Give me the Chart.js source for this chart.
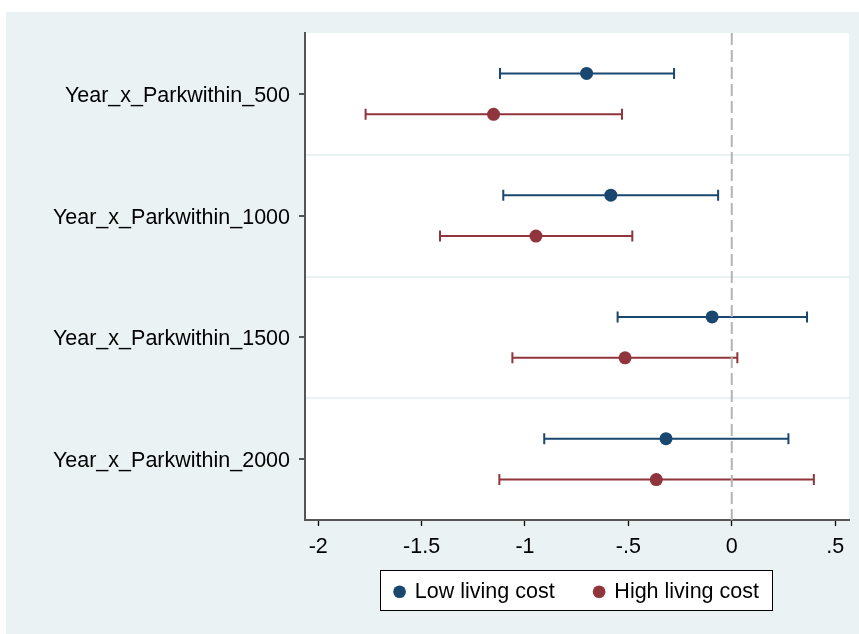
<!DOCTYPE html>
<html>
<head>
<meta charset="utf-8">
<title>Coefficient plot</title>
<script src="https://cdn.jsdelivr.net/npm/chart.js@4.4.1/dist/chart.umd.min.js"></script>
<style>
    html, body { margin: 0; padding: 0; background: #fff; }
    canvas { display: block; }
</style>
</head>
<body>
<canvas id="coef-chart" width="859" height="634"></canvas>
<script>
// Chart data.
var categories = [
    'Year_x_Parkwithin_500',
    'Year_x_Parkwithin_1000',
    'Year_x_Parkwithin_1500',
    'Year_x_Parkwithin_2000'
];
var seriesNames = ['Low living cost', 'High living cost'];

var lowEstimate = [-0.702, -0.585, -0.095, -0.318];
var lowLower = [-1.121, -1.105, -0.552, -0.907];
var lowUpper = [-0.279, -0.066, 0.364, 0.274];

var highEstimate = [-1.152, -0.947, -0.516, -0.365];
var highLower = [-1.771, -1.411, -1.061, -1.124];
var highUpper = [-0.531, -0.481, 0.027, 0.397];

var xTickValues = [-2, -1.5, -1, -0.5, 0, 0.5];
var xTickLabels = ['-2', '-1.5', '-1', '-.5', '0', '.5'];

(function () {
    'use strict';

    var BLUE = '#1a476f';
    var RED = '#90353b';
    var PANEL = '#eaf2f3';
    var ROW_SHIFT = 0.168; // vertical offset of each series inside a row

    /**
     * Build scatter points with their confidence bounds.
     */
    function buildPoints(est, lo, hi, side) {
        var pts = [];
        for (var i = 0; i < est.length; i++) {
            pts.push({ x: est[i], y: i + 0.5 + side * ROW_SHIFT, lo: lo[i], hi: hi[i] });
        }
        return pts;
    }

    /**
     * Background panel, white plot region and legend frame.
     */
    var backgroundPlugin = {
        id: 'stataBackground',
        afterLayout: function (chart) {
            // pull the legend row up so it sits close under the axis labels
            var lg = chart.legend;
            if (lg) {
                lg.top -= lg.options.labels.padding - 15;
            }
        },
        beforeDraw: function (chart) {
            var ctx = chart.ctx;
            var area = chart.chartArea;
            ctx.save();
            ctx.fillStyle = '#fff';
            ctx.fillRect(0, 0, chart.width, chart.height);
            ctx.fillStyle = PANEL;
            ctx.fillRect(6, 12, chart.width - 6, chart.height - 12);
            ctx.fillStyle = '#fff';
            ctx.fillRect(area.left, area.top, area.right - area.left, area.bottom - area.top);

            var boxes = chart.legend && chart.legend.legendHitBoxes;
            if (boxes && boxes.length) {
                var first = boxes[0];
                var last = boxes[boxes.length - 1];
                var left = Math.round(first.left - 15) + 0.5;
                var right = Math.round(last.left + last.width + 13) + 0.5;
                var top = Math.round(first.top - 11) + 0.5;
                var bottom = Math.round(first.top + first.height + 7) + 0.5;
                ctx.fillStyle = '#fff';
                ctx.fillRect(left, top, right - left, bottom - top);
                ctx.strokeStyle = '#000';
                ctx.lineWidth = 1;
                ctx.strokeRect(left, top, right - left, bottom - top);
            }
            ctx.restore();
        }
    };

    /**
     * Horizontal confidence intervals with end caps.
     */
    var errorBarPlugin = {
        id: 'errorBars',
        beforeDatasetsDraw: function (chart) {
            var ctx = chart.ctx;
            var xs = chart.scales.x;
            var ys = chart.scales.y;
            chart.data.datasets.forEach(function (ds, di) {
                if (!ds.errorBars || chart.getDatasetMeta(di).hidden) {
                    return;
                }
                ctx.save();
                ctx.strokeStyle = ds.backgroundColor;
                ctx.lineWidth = 2;
                ds.data.forEach(function (pt) {
                    var py = ys.getPixelForValue(pt.y);
                    var x1 = xs.getPixelForValue(pt.lo);
                    var x2 = xs.getPixelForValue(pt.hi);
                    ctx.beginPath();
                    ctx.moveTo(x1, py);
                    ctx.lineTo(x2, py);
                    ctx.moveTo(x1, py - 5.5);
                    ctx.lineTo(x1, py + 5.5);
                    ctx.moveTo(x2, py - 5.5);
                    ctx.lineTo(x2, py + 5.5);
                    ctx.stroke();
                });
                ctx.restore();
            });
        }
    };

    Chart.defaults.font.family = '"Liberation Sans", Arial, Helvetica, sans-serif';
    Chart.defaults.font.size = 21.5;
    Chart.defaults.color = '#000';

    var ctx = document.getElementById('coef-chart').getContext('2d');

    new Chart(ctx, {
        type: 'scatter',
        data: {
            datasets: [{
                label: seriesNames[0],
                data: buildPoints(lowEstimate, lowLower, lowUpper, -1),
                backgroundColor: BLUE,
                borderColor: BLUE,
                borderWidth: 0,
                pointRadius: 6.5,
                pointStyle: 'circle',
                errorBars: true
            }, {
                label: seriesNames[1],
                data: buildPoints(highEstimate, highLower, highUpper, 1),
                backgroundColor: RED,
                borderColor: RED,
                borderWidth: 0,
                pointRadius: 6.5,
                pointStyle: 'circle',
                errorBars: true
            }, {
                label: 'zero',
                data: [{ x: 0, y: 0 }, { x: 0, y: categories.length }],
                showLine: true,
                borderColor: '#b4b4b4',
                borderWidth: 2,
                borderDash: [12, 5],
                pointRadius: 0
            }]
        },
        options: {
            responsive: false,
            animation: false,
            layout: {
                padding: { top: 33, right: 10, bottom: 20, left: 0 }
            },
            plugins: {
                tooltip: { enabled: false },
                legend: {
                    position: 'bottom',
                    fullSize: false,
                    maxHeight: 48,
                    labels: {
                        usePointStyle: true,
                        boxWidth: 9,
                        boxHeight: 9,
                        padding: 40,
                        color: '#000',
                        font: { size: 21.5 },
                        filter: function (item) {
                            return item.datasetIndex < 2;
                        }
                    }
                }
            },
            scales: {
                x: {
                    type: 'linear',
                    min: -2.064,
                    max: 0.567,
                    afterBuildTicks: function (scale) {
                        scale.ticks = xTickValues.map(function (v) { return { value: v }; });
                    },
                    afterFit: function (scale) {
                        scale.height = 46;
                    },
                    ticks: {
                        padding: 8,
                        maxRotation: 0,
                        color: '#000',
                        callback: function (value) {
                            var i = xTickValues.indexOf(value);
                            return i >= 0 ? xTickLabels[i] : '';
                        }
                    },
                    grid: {
                        drawOnChartArea: false,
                        drawTicks: true,
                        tickLength: 6,
                        tickColor: '#000',
                        tickWidth: 1.3
                    },
                    border: { color: '#555', width: 2 }
                },
                y: {
                    type: 'linear',
                    min: 0,
                    max: categories.length,
                    reverse: true,
                    afterBuildTicks: function (scale) {
                        var t = [];
                        for (var i = 0; i <= categories.length * 2; i++) {
                            t.push({ value: i / 2 });
                        }
                        scale.ticks = t;
                    },
                    afterFit: function (scale) {
                        scale.width = 305;
                    },
                    ticks: {
                        padding: 9,
                        labelOffset: 2,
                        color: '#000',
                        autoSkip: false,
                        callback: function (value) {
                            var i = value - 0.5;
                            return Number.isInteger(i) ? categories[i] : '';
                        }
                    },
                    grid: {
                        lineWidth: 2,
                        tickLength: 6,
                        tickWidth: 1.3,
                        color: function (c) {
                            var v = c.tick ? c.tick.value : -1;
                            return Number.isInteger(v) && v > 0 && v < categories.length ? PANEL : 'rgba(0,0,0,0)';
                        },
                        tickColor: function (c) {
                            var v = c.tick ? c.tick.value : 0;
                            return Number.isInteger(v) ? 'rgba(0,0,0,0)' : '#000';
                        }
                    },
                    border: { color: '#555', width: 2 }
                }
            }
        },
        plugins: [backgroundPlugin, errorBarPlugin]
    });
})();
</script>
</body>
</html>
